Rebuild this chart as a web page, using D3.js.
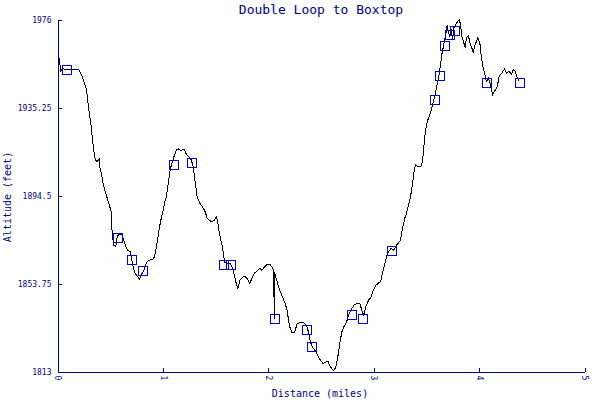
<!DOCTYPE html>
<html><head><meta charset="utf-8">
<script src="https://cdn.jsdelivr.net/npm/d3@7"></script>
<style>
html,body{margin:0;padding:0;background:#fff;}
svg{display:block;}
text{font-family:"DejaVu Sans Mono",monospace;}
</style></head><body>
<svg id="chart" width="600" height="400"></svg>
<script>
const title = "Double Loop to Boxtop";
const xLabel = "Distance (miles)";
const yLabel = "Altitude (feet)";
const xTicks = [0, 1, 2, 3, 4, 5];
const yTicks = [1813, 1853.75, 1894.5, 1935.25, 1976];

// track profile: distance (miles), altitude (feet)
const distance = [0.003,0.019,0.028,0.047,0.202,0.234,0.250,0.275,0.287,0.306,0.320,0.332,0.344,0.358,0.377,0.396,0.401,0.415,0.427,0.439,
0.458,0.477,0.496,0.509,0.515,0.522,0.534,0.553,0.566,0.585,0.610,0.629,0.648,0.667,0.693,0.705,0.718,0.737,0.762,0.775,
0.794,0.819,0.844,0.863,0.901,0.920,0.939,0.958,0.977,0.996,1.015,1.034,1.046,1.060,1.072,1.091,1.110,1.129,1.148,1.167,
1.186,1.205,1.217,1.243,1.269,1.287,1.300,1.312,1.325,1.350,1.376,1.401,1.420,1.439,1.464,1.490,1.509,1.521,1.530,1.546,
1.565,1.578,1.584,1.603,1.641,1.657,1.673,1.692,1.711,1.730,1.755,1.774,1.800,1.824,1.843,1.869,1.895,1.919,1.938,1.964,
1.990,2.014,2.033,2.052,2.056,2.061,2.065,2.084,2.109,2.135,2.160,2.179,2.192,2.204,2.223,2.249,2.274,2.306,2.343,2.369,
2.388,2.400,2.419,2.445,2.470,2.495,2.521,2.540,2.565,2.583,2.602,2.621,2.640,2.659,2.678,2.697,2.716,2.742,2.768,2.792,
2.818,2.843,2.868,2.887,2.906,2.925,2.951,2.976,2.995,3.020,3.046,3.065,3.083,3.102,3.121,3.140,3.166,3.191,3.216,3.242,
3.254,3.273,3.299,3.311,3.330,3.349,3.362,3.375,3.387,3.400,3.418,3.444,3.456,3.470,3.482,3.494,3.508,3.527,3.539,3.558,
3.570,3.589,3.608,3.621,3.634,3.646,3.665,3.684,3.697,3.710,3.722,3.735,3.748,3.760,3.779,3.798,3.811,3.824,3.836,3.855,
3.868,3.880,3.899,3.912,3.931,3.944,3.956,3.975,3.988,4.007,4.020,4.039,4.058,4.070,4.089,4.108,4.127,4.146,4.172,4.191,
4.215,4.241,4.260,4.286,4.305,4.324,4.342,4.362,4.381];
const altitude = [1958.2,1958.1,1951.9,1953.1,1952.8,1949.7,1947.3,1943.8,1938.1,1931.1,1926.4,1920.3,1915.6,1911.0,1910.2,1911.3,1907.9,1904.8,1901.7,1898.6,
1895.5,1892.4,1889.3,1887.0,1880.0,1875.4,1871.5,1871.0,1875.4,1876.6,1876.6,1873.8,1870.7,1869.2,1868.4,1864.5,1861.4,1858.4,1856.8,1855.6,
1857.6,1859.9,1863.3,1864.5,1864.9,1866.1,1870.7,1876.9,1882.3,1886.2,1890.9,1894.3,1898.6,1903.2,1907.1,1910.2,1913.3,1915.6,1916.1,1915.3,
1915.6,1916.0,1914.1,1912.5,1911.0,1907.9,1903.2,1898.6,1893.9,1890.9,1889.3,1887.0,1883.9,1883.1,1882.3,1883.1,1884.7,1882.3,1878.5,1874.6,
1870.7,1866.1,1863.8,1863.0,1863.0,1861.4,1858.4,1854.5,1851.4,1855.3,1856.5,1857.1,1856.0,1853.7,1856.0,1858.6,1859.6,1860.7,1859.9,1861.4,
1862.7,1862.7,1861.4,1859.9,1837.5,1859.0,1857.6,1854.5,1850.6,1847.5,1844.4,1841.3,1836.7,1833.6,1831.2,1831.2,1835.1,1835.9,1835.4,1833.6,
1829.7,1826.6,1824.3,1822.7,1820.4,1818.1,1816.6,1817.3,1817.8,1815.8,1814.3,1813.5,1815.0,1819.6,1825.9,1831.2,1833.6,1835.9,1839.8,1842.1,
1844.1,1844.4,1844.7,1841.3,1839.0,1842.9,1846.0,1847.5,1850.6,1852.9,1854.0,1854.5,1858.4,1862.2,1866.1,1868.4,1870.0,1869.2,1871.5,1873.0,
1873.5,1879.3,1884.7,1886.2,1890.1,1893.9,1897.8,1902.5,1906.8,1908.7,1907.9,1907.9,1908.7,1913.3,1921.1,1924.9,1928.8,1931.1,1932.7,1936.5,
1938.8,1942.7,1947.3,1950.5,1955.1,1959.7,1964.4,1969.0,1973.2,1969.8,1968.2,1971.4,1966.7,1972.1,1973.7,1975.2,1976.0,1973.7,1968.2,1965.2,
1962.9,1967.5,1968.6,1965.2,1962.9,1960.5,1963.6,1965.9,1967.5,1965.2,1959.0,1953.6,1949.7,1947.3,1948.9,1945.8,1941.2,1942.7,1945.0,1949.7,
1951.2,1953.1,1951.2,1952.0,1950.5,1952.8,1952.0,1948.9,1947.3];

// waypoints
const wpDistance = [0.092,0.572,0.705,0.809,1.103,1.274,1.578,1.648,2.062,2.365,2.416,2.792,2.897,3.169,3.580,3.627,3.675,3.722,3.773,4.073,4.386];
const wpAltitude = [1952.6,1874.6,1864.5,1859.4,1908.5,1909.5,1862.5,1862.5,1837.5,1832.4,1824.5,1839.3,1837.5,1868.6,1938.8,1950.0,1963.9,1969.0,1970.9,1946.6,1946.6];

const navy = "#000080";
const svg = d3.select("#chart");
const x = d3.scaleLinear().domain([0, 5]).range([57.5, 584.5]);
const y = d3.scaleLinear().domain([1813, 1976]).range([371.5, 19.5]);

// axes
const xAxis = svg.append("g").attr("transform", `translate(0,${y(1813)})`)
  .call(d3.axisBottom(x).tickValues(xTicks).tickFormat(d3.format("d")).tickSizeInner(-4).tickSizeOuter(0));
xAxis.selectAll("path,line").attr("stroke", navy).attr("shape-rendering", "crispEdges");
xAxis.selectAll("text").attr("fill", navy).attr("font-size", 8)
  .attr("font-family", "DejaVu Sans Mono, monospace")
  .attr("transform", "rotate(90)").attr("text-anchor", "start")
  .attr("x", 4).attr("y", 0).attr("dy", "0.35em");

const yAxis = svg.append("g").attr("transform", `translate(${x(0)},0)`)
  .call(d3.axisLeft(y).tickValues(yTicks).tickFormat(d => String(d)).tickSizeInner(-4).tickSizeOuter(0).tickPadding(6));
yAxis.selectAll("path,line").attr("stroke", navy).attr("shape-rendering", "crispEdges");
yAxis.selectAll("text").attr("fill", navy).attr("font-size", 8)
  .attr("font-family", "DejaVu Sans Mono, monospace");

// profile line
const pts = distance.map((d, i) => [d, altitude[i]]);
svg.append("path").datum(pts)
  .attr("fill", "none").attr("stroke", "#000").attr("stroke-width", 1)
  .attr("shape-rendering", "crispEdges")
  .attr("d", d3.line().x(d => x(d[0])).y(d => y(d[1])));

// waypoint markers
svg.append("g").selectAll("rect").data(wpDistance.map((d, i) => [d, wpAltitude[i]]))
  .join("rect")
  .attr("x", d => Math.round(x(d[0])) - 4.5).attr("y", d => Math.round(y(d[1])) - 4.5)
  .attr("width", 9).attr("height", 9)
  .attr("fill", "none").attr("stroke", "#0000cc").attr("stroke-width", 1)
  .attr("shape-rendering", "crispEdges");

// titles
svg.append("text").attr("x", 321).attr("y", 14).attr("text-anchor", "middle")
  .attr("font-size", 13).attr("fill", navy).text(title);
svg.append("text").attr("x", 320).attr("y", 397).attr("text-anchor", "middle")
  .attr("font-size", 10).attr("fill", navy).text(xLabel);
svg.append("text").attr("transform", "translate(11,197) rotate(-90)").attr("text-anchor", "middle")
  .attr("font-size", 10).attr("fill", navy).text(yLabel);
</script>
</body></html>
